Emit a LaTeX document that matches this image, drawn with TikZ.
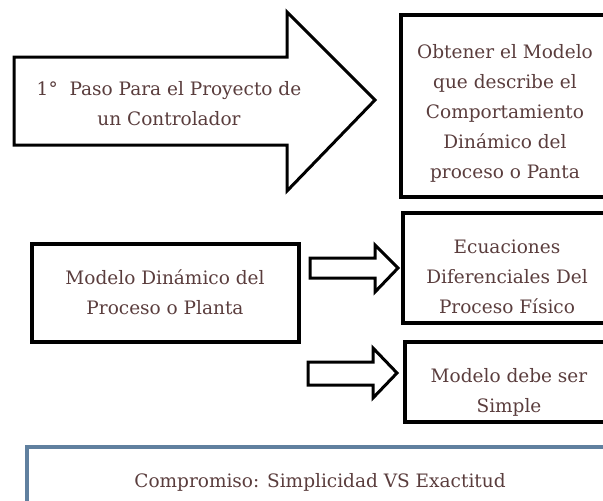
\documentclass[tikz,border=0pt]{standalone}
\usepackage{fontspec}
\setmainfont{DejaVu Serif}
\definecolor{txt}{HTML}{5A3D3D}
\definecolor{bluegray}{HTML}{60809F}
\begin{document}
\begin{tikzpicture}[x=1pt,y=-1pt,
  boxline/.style={draw=black,line width=3.5pt,line join=miter},
  arrowline/.style={draw=black,fill=white,line width=3pt,line join=miter},
  label/.style={text=txt,align=center,inner sep=0pt,font=\fontsize{18.5}{30}\selectfont}]
\useasboundingbox (0,0) rectangle (603,501);
\clip (0,0) rectangle (603,501);
% big arrow
\draw[arrowline] (14,57) -- (287,57) -- (287,12) -- (375,100) -- (287,191) -- (287,145) -- (14,145) -- cycle;
\node[label] (paso) at (169,104) {1°\ \ Paso Para el Proyecto de\\un Controlador};
% top right box
\draw[boxline] (401,15) rectangle (625,197);
\node[label] (obt) at (505,113) {Obtener el Modelo\\que describe el\\Comportamiento\\Dinámico del\\proceso o Panta};
% middle left box
\draw[boxline] (32,244) rectangle (299,342);
\node[label] (mod) at (165,292) {Modelo Dinámico del\\Proceso o Planta};
% small arrows
\draw[arrowline] (310,258) -- (375,258) -- (375,245) -- (398,268) -- (375,292) -- (375,278) -- (310,278) -- cycle;
\draw[arrowline] (308,362) -- (373,362) -- (373,348) -- (397,373) -- (373,398) -- (373,385) -- (308,385) -- cycle;
% ecuaciones box
\draw[boxline] (403,213) rectangle (625,323);
\node[label] (ecu) at (507,277) {Ecuaciones\\Diferenciales Del\\Proceso Físico};
% simple box
\node[label] (simp) at (509,392) {Modelo debe ser\\Simple};
\draw[boxline] (405,342) rectangle (625,422);
% bottom box
\draw[draw=bluegray,line width=4pt] (27,447) rectangle (625,530);
\node[label] (comp) at (320,482) {Compromiso: Simplicidad VS Exactitud};
\end{tikzpicture}
\end{document}
